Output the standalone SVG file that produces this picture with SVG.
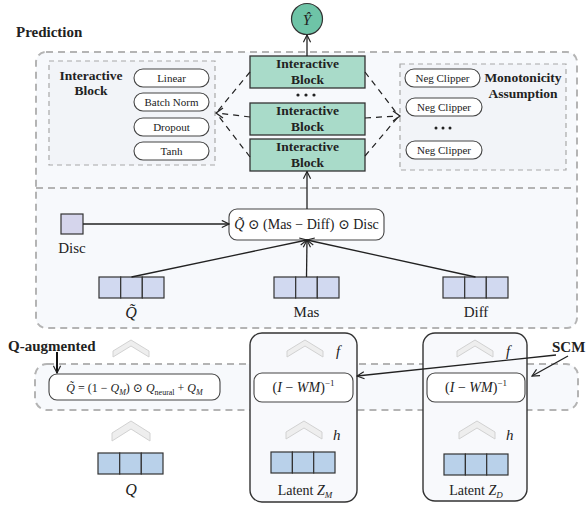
<svg xmlns="http://www.w3.org/2000/svg" width="586" height="505" viewBox="0 0 586 505">
<defs>
<marker id="arr" viewBox="0 0 10 10" refX="9" refY="5" markerWidth="9" markerHeight="9" orient="auto" markerUnits="userSpaceOnUse">
<path d="M1,1 L9,5 L1,9" fill="none" stroke="#222" stroke-width="1.3"/>
</marker>
<style>
text{font-family:"Liberation Serif","DejaVu Serif",serif;fill:#222}
.b{font-weight:bold}
.i{font-style:italic}
.outer{fill:#f7f9fc;stroke:#b4b4b4;stroke-width:2;stroke-dasharray:7 5}
.inner{fill:#f2f4f8;stroke:#a8a8a8;stroke-width:1.2;stroke-dasharray:5 4}
.pill{fill:#fff;stroke:#444;stroke-width:1.1}
.blk{fill:#a9dbc9;stroke:#333;stroke-width:1.3}
.cellP{fill:#d1d9f0;stroke:#333;stroke-width:1.2}
.cellB{fill:#b9d1ea;stroke:#333;stroke-width:1.2}
.chev{fill:#eeeeee;stroke:#d2d2d2;stroke-width:1}
.ln{fill:none;stroke:#222;stroke-width:1.3}
.dl{fill:none;stroke:#222;stroke-width:1.2;stroke-dasharray:6 5}
.lat{fill:#f8f9fc;stroke:#333;stroke-width:1.4}
</style>
</defs>

<!-- background panels -->
<g id="prediction-panel">
<rect class="outer" x="36" y="52" width="541" height="276" rx="10"/>
<line x1="36" y1="188" x2="577" y2="188" stroke="#b4b4b4" stroke-width="2" stroke-dasharray="7 5"/>
<text class="b" x="16" y="37" font-size="15">Prediction</text>
</g>

<g id="qaug-panel">
<rect class="outer" x="35" y="364" width="543" height="46" rx="12"/>
<text class="b" x="8" y="351" font-size="15">Q-augmented</text>
</g>

<g id="interactive-detail">
<rect class="inner" x="49" y="61" width="166" height="104"/>
<text class="b" x="91" y="80" font-size="13.5" text-anchor="middle">Interactive</text>
<text class="b" x="91" y="95" font-size="13.5" text-anchor="middle">Block</text>
<rect class="pill" x="134" y="69" width="75" height="18" rx="9"/>
<text x="171.5" y="82" font-size="11" text-anchor="middle">Linear</text>
<rect class="pill" x="134" y="93" width="75" height="18" rx="9"/>
<text x="171.5" y="106" font-size="11" text-anchor="middle">Batch Norm</text>
<rect class="pill" x="134" y="118" width="75" height="18" rx="9"/>
<text x="171.5" y="131" font-size="11" text-anchor="middle">Dropout</text>
<rect class="pill" x="134" y="142" width="75" height="18" rx="9"/>
<text x="171.5" y="155" font-size="11" text-anchor="middle">Tanh</text>
</g>

<g id="monotonicity">
<rect class="inner" x="400" y="64" width="166" height="106"/>
<rect class="pill" x="405" y="69" width="75" height="18" rx="9"/>
<text x="442.5" y="82" font-size="11" text-anchor="middle">Neg Clipper</text>
<rect class="pill" x="406" y="98" width="76" height="18" rx="9"/>
<text x="444" y="111" font-size="11" text-anchor="middle">Neg Clipper</text>
<circle cx="436" cy="128" r="1.5" fill="#222"/><circle cx="443" cy="128" r="1.5" fill="#222"/><circle cx="450" cy="128" r="1.5" fill="#222"/>
<rect class="pill" x="406" y="141" width="76" height="18" rx="9"/>
<text x="444" y="154" font-size="11" text-anchor="middle">Neg Clipper</text>
<text class="b" x="523" y="82" font-size="13.5" text-anchor="middle">Monotonicity</text>
<text class="b" x="523" y="98" font-size="13.5" text-anchor="middle">Assumption</text>
</g>

<g id="y-hat">
<circle cx="307" cy="19" r="15.5" fill="#6ec4a7" stroke="#333" stroke-width="1.2"/>
<text class="i" x="307" y="25" font-size="15" text-anchor="middle">Ŷ</text>
</g>

<g id="block1">
<rect class="blk" x="250" y="56" width="115" height="32"/>
<text class="b" x="307.5" y="68" font-size="13.5" text-anchor="middle">Interactive</text>
<text class="b" x="307.5" y="84" font-size="13.5" text-anchor="middle">Block</text>
</g>
<g id="dots">
<circle cx="298" cy="95" r="1.6" fill="#222"/><circle cx="306" cy="95" r="1.6" fill="#222"/><circle cx="314" cy="95" r="1.6" fill="#222"/>
</g>
<g id="block2">
<rect class="blk" x="250" y="103" width="115" height="32"/>
<text class="b" x="307.5" y="115" font-size="13.5" text-anchor="middle">Interactive</text>
<text class="b" x="307.5" y="131" font-size="13.5" text-anchor="middle">Block</text>
</g>
<g id="block3">
<rect class="blk" x="250" y="139" width="115" height="32"/>
<text class="b" x="307.5" y="151" font-size="13.5" text-anchor="middle">Interactive</text>
<text class="b" x="307.5" y="167" font-size="13.5" text-anchor="middle">Block</text>
</g>

<g id="combine">
<rect class="pill" x="229" y="209" width="155" height="31" rx="8"/>
<text x="306.5" y="229" font-size="14" text-anchor="middle"><tspan class="i">Q̃</tspan> ⊙ (Mas − Diff) ⊙ Disc</text>
</g>

<g id="disc">
<rect class="cellP" x="61" y="214" width="22" height="20" fill="#d5d5ec" style="fill:#d5d5ec"/>
<text x="72" y="253" font-size="15" text-anchor="middle">Disc</text>
</g>

<g id="qtilde">
<rect class="cellP" x="99" y="277" width="21.7" height="21"/><rect class="cellP" x="120.7" y="277" width="21.6" height="21"/><rect class="cellP" x="142.3" y="277" width="21.7" height="21"/>
<text class="i" x="131" y="318" font-size="16" text-anchor="middle">Q̃</text>
</g>
<g id="mas">
<rect class="cellP" x="274" y="277" width="21.7" height="21"/><rect class="cellP" x="295.7" y="277" width="21.6" height="21"/><rect class="cellP" x="317.3" y="277" width="21.7" height="21"/>
<text x="306.5" y="317" font-size="15" text-anchor="middle">Mas</text>
</g>
<g id="diff">
<rect class="cellP" x="443" y="277" width="21.7" height="21"/><rect class="cellP" x="464.7" y="277" width="21.6" height="21"/><rect class="cellP" x="486.3" y="277" width="21.7" height="21"/>
<text x="476" y="317" font-size="15" text-anchor="middle">Diff</text>
</g>

<g id="qaug-formula">
<polygon class="chev" points="113,351 131,340 149,351 149,357 131,346 113,357"/>
<rect class="pill" x="49" y="374" width="171" height="26" rx="8"/>
<text x="134.5" y="392" font-size="12" text-anchor="middle"><tspan class="i">Q̃</tspan> = (1 − <tspan class="i">Q</tspan><tspan class="i" font-size="8" dy="2.5">M</tspan><tspan dy="-2.5">) ⊙ </tspan><tspan class="i">Q</tspan><tspan font-size="8" dy="2.5">neural</tspan><tspan dy="-2.5"> + </tspan><tspan class="i">Q</tspan><tspan class="i" font-size="8" dy="2.5">M</tspan></text>
</g>

<g id="q-input">
<polygon class="chev" points="112,433 131,421 150,433 150,441 131,429 112,441"/>
<rect class="cellB" x="98" y="453" width="21.7" height="21"/><rect class="cellB" x="119.7" y="453" width="21.6" height="21"/><rect class="cellB" x="141.3" y="453" width="21.7" height="21"/>
<text class="i" x="131" y="495" font-size="16" text-anchor="middle">Q</text>
</g>

<g id="latent-zm">
<rect class="lat" x="250" y="333" width="107" height="169" rx="12"/>
<polygon class="chev" points="287,351 305,340 323,351 323,357 305,346 287,357"/>
<text class="i" x="336" y="356" font-size="15">f</text>
<rect class="pill" x="254" y="373" width="99" height="29" rx="8"/>
<text x="303.5" y="392" font-size="14" text-anchor="middle">(<tspan class="i">I</tspan> − <tspan class="i">WM</tspan>)<tspan font-size="9" dy="-6">−1</tspan></text>
<polygon class="chev" points="286,432 304,421 322,432 322,439 304,428 286,439"/>
<text class="i" x="333" y="440" font-size="15">h</text>
<rect class="cellB" x="271" y="452" width="21.4" height="21"/><rect class="cellB" x="292.4" y="452" width="21.3" height="21"/><rect class="cellB" x="313.7" y="452" width="21.3" height="21"/>
<text x="305" y="495" font-size="14" text-anchor="middle">Latent <tspan class="i">Z</tspan><tspan class="i" font-size="9" dy="3">M</tspan></text>
</g>

<g id="latent-zd">
<rect class="lat" x="423" y="333" width="104" height="168" rx="12"/>
<polygon class="chev" points="457,351 475,340 493,351 493,357 475,346 457,357"/>
<text class="i" x="506" y="356" font-size="15">f</text>
<rect class="pill" x="427" y="373" width="98" height="29" rx="8"/>
<text x="476" y="392" font-size="14" text-anchor="middle">(<tspan class="i">I</tspan> − <tspan class="i">WM</tspan>)<tspan font-size="9" dy="-6">−1</tspan></text>
<polygon class="chev" points="459,432 477,421 495,432 495,439 477,428 459,439"/>
<text class="i" x="506" y="440" font-size="15">h</text>
<rect class="cellB" x="444" y="454" width="21.4" height="21"/><rect class="cellB" x="465.4" y="454" width="21.3" height="21"/><rect class="cellB" x="486.7" y="454" width="21.3" height="21"/>
<text x="476" y="495" font-size="14" text-anchor="middle">Latent <tspan class="i">Z</tspan><tspan class="i" font-size="9" dy="3">D</tspan></text>
</g>

<g id="scm">
<text class="b" x="552" y="352" font-size="15">SCM</text>
</g>

<g id="connectors">
<line class="ln" x1="307" y1="56" x2="307" y2="35" marker-end="url(#arr)"/>
<line class="ln" x1="307" y1="209" x2="307" y2="171.5" marker-end="url(#arr)"/>
<line class="ln" x1="83" y1="224" x2="229" y2="224" marker-end="url(#arr)"/>
<line class="ln" x1="131.5" y1="277" x2="307" y2="240" marker-end="url(#arr)"/>
<line class="ln" x1="306.5" y1="277" x2="307" y2="240" marker-end="url(#arr)"/>
<line class="ln" x1="475.5" y1="277" x2="307" y2="240" marker-end="url(#arr)"/>
<line class="dl" x1="250" y1="72" x2="217" y2="112"/>
<line class="dl" x1="250" y1="117" x2="217" y2="113"/>
<line class="dl" x1="250" y1="157" x2="217" y2="114"/>
<path class="ln" d="M223,108 L216,113 L223,118"/>
<line class="dl" x1="365" y1="72" x2="398" y2="115"/>
<line class="dl" x1="365" y1="118" x2="398" y2="116"/>
<line class="dl" x1="365" y1="156" x2="398" y2="117"/>
<path class="ln" d="M393,111 L400,116 L393,121"/>
<line x1="57" y1="352" x2="57" y2="373" stroke="#111" stroke-width="2" marker-end="url(#arr)"/>
<line class="ln" x1="556" y1="355" x2="357" y2="376" stroke-width="1.6" marker-end="url(#arr)"/>
<line class="ln" x1="568" y1="356" x2="532" y2="376" stroke-width="1.6" marker-end="url(#arr)"/>
</g>
</svg>
